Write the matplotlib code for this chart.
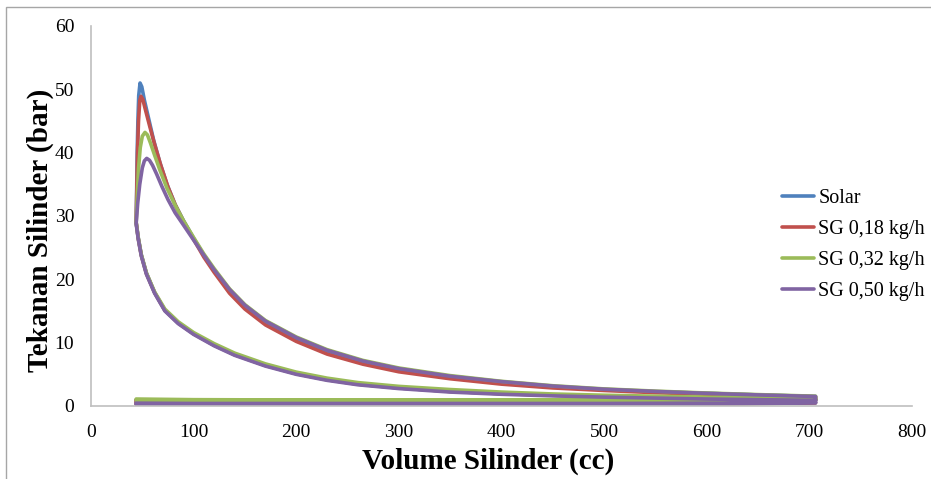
import matplotlib
matplotlib.use('Agg')
import matplotlib.pyplot as plt
from matplotlib.patches import Rectangle

# compression stroke, volume (cc) going down
comp_v = [706, 650, 600, 550, 500, 450, 400, 350, 300, 260, 230, 200, 170, 140, 120, 100, 85, 72, 62, 54, 49, 46, 44]
comp_solar = [1.0, 1.1, 1.2, 1.35, 1.5, 1.7, 1.95, 2.3, 2.85, 3.45, 4.15, 5.1, 6.4, 8.1, 9.6, 11.4, 13.1, 15.1, 17.9, 21.0, 23.9, 26.6, 29.0]
comp_sg18 = [1.0, 1.1, 1.2, 1.35, 1.5, 1.7, 1.95, 2.3, 2.85, 3.45, 4.15, 5.1, 6.4, 8.1, 9.6, 11.4, 13.1, 15.1, 17.9, 20.9, 23.8, 26.5, 29.0]
comp_sg32 = [1.2, 1.3, 1.4, 1.55, 1.7, 1.9, 2.2, 2.6, 3.1, 3.7, 4.4, 5.35, 6.65, 8.35, 9.85, 11.6, 13.3, 15.3, 18.0, 21.0, 23.9, 26.6, 29.0]
comp_sg50 = [0.9, 1.0, 1.1, 1.25, 1.4, 1.6, 1.85, 2.2, 2.75, 3.35, 4.05, 5.0, 6.3, 8.0, 9.5, 11.3, 13.0, 15.0, 17.8, 20.8, 23.7, 26.4, 28.8]

# combustion + expansion stroke, volume going up
exp_v_solar = [44, 44.5, 45, 45.7, 46.5, 47.8, 49.5, 52, 56, 61, 67, 74, 82, 90, 100, 110, 120, 135, 150, 170, 200, 230, 265, 300, 350, 400, 450, 500, 550, 600, 650, 706]
exp_solar = [29.0, 34.0, 40.0, 45.0, 49.0, 51.0, 50.4, 48.3, 45.5, 42.0, 38.5, 35.0, 31.8, 29.3, 26.5, 23.8, 21.4, 18.2, 15.8, 13.3, 10.7, 8.7, 7.0, 5.8, 4.6, 3.7, 3.05, 2.6, 2.25, 2.0, 1.75, 1.5]
exp_v_sg18 = [44, 44.6, 45.3, 46.3, 47.5, 48.7, 50.5, 53, 57, 62, 68, 75, 82, 90, 100, 110, 120, 135, 150, 170, 200, 230, 265, 300, 350, 400, 450, 500, 550, 600, 650, 706]
exp_sg18 = [29.0, 34.0, 40.0, 45.0, 48.2, 48.9, 48.4, 46.8, 44.3, 41.3, 38.0, 34.6, 31.8, 29.2, 26.3, 23.5, 21.1, 17.8, 15.3, 12.8, 10.2, 8.2, 6.6, 5.4, 4.3, 3.45, 2.85, 2.45, 2.1, 1.85, 1.65, 1.45]
exp_v_sg32 = [44, 45, 46.3, 48, 50, 52.6, 55, 58, 62, 67, 74, 82, 90, 100, 110, 120, 135, 150, 170, 200, 230, 265, 300, 350, 400, 450, 500, 550, 600, 650, 706]
exp_sg32 = [29.0, 33.0, 37.5, 40.8, 42.6, 43.2, 42.8, 41.5, 39.6, 37.3, 34.4, 31.7, 29.3, 26.6, 24.0, 21.7, 18.5, 16.0, 13.5, 10.9, 8.9, 7.2, 6.0, 4.8, 3.9, 3.2, 2.7, 2.35, 2.05, 1.8, 1.55]
exp_v_sg50 = [44, 45.5, 47.5, 50, 52, 54.3, 57, 60, 64, 69, 75, 82, 90, 100, 110, 120, 135, 150, 170, 200, 230, 265, 300, 350, 400, 450, 500, 550, 600, 650, 706]
exp_sg50 = [28.8, 32.0, 35.0, 37.6, 38.7, 39.1, 38.8, 38.0, 36.6, 34.7, 32.6, 30.5, 28.6, 26.2, 23.8, 21.5, 18.4, 15.9, 13.4, 10.8, 8.8, 7.1, 5.9, 4.7, 3.85, 3.15, 2.65, 2.3, 2.0, 1.75, 1.5]

# exhaust (706 -> 44) and intake (44 -> 706) strokes
exh_v = [706, 600, 500, 400, 300, 200, 100, 44]
exh_solar = [0.9, 0.85, 0.85, 0.85, 0.85, 0.85, 0.9, 0.95]
exh_sg18 = [0.9, 0.85, 0.85, 0.85, 0.85, 0.85, 0.9, 0.95]
exh_sg32 = [1.0, 0.95, 0.95, 0.95, 0.95, 0.95, 1.0, 1.1]
exh_sg50 = [0.5, 0.45, 0.4, 0.4, 0.4, 0.4, 0.4, 0.45]
int_v = [44, 100, 200, 300, 400, 500, 600, 706]
int_solar = [0.3, 0.25, 0.25, 0.25, 0.25, 0.25, 0.3, 0.5]
int_sg18 = [0.3, 0.25, 0.25, 0.25, 0.25, 0.25, 0.3, 0.5]
int_sg32 = [0.9, 0.85, 0.85, 0.85, 0.85, 0.85, 0.9, 1.0]
int_sg50 = [0.3, 0.2, 0.2, 0.2, 0.2, 0.2, 0.3, 0.6]

labels = ['Solar', 'SG 0,18 kg/h', 'SG 0,32 kg/h', 'SG 0,50 kg/h']
colors = ['#4F81BD', '#C0504D', '#9BBB59', '#8064A2']

series = [
    (comp_solar, exp_v_solar, exp_solar, exh_solar, int_solar),
    (comp_sg18, exp_v_sg18, exp_sg18, exh_sg18, int_sg18),
    (comp_sg32, exp_v_sg32, exp_sg32, exh_sg32, int_sg32),
    (comp_sg50, exp_v_sg50, exp_sg50, exh_sg50, int_sg50),
]

plt.rcParams['font.family'] = ['Liberation Serif', 'DejaVu Serif']

fig = plt.figure(figsize=(9.31, 4.79), dpi=100)
ax = fig.add_axes([91 / 931, 1 - 406 / 479, 821 / 931, 380 / 479])

for (cp, ev, ep, xp, ip), lab, col in zip(series, labels, colors):
    vv = comp_v + ev + exh_v + int_v
    pp = cp + ep + xp + ip
    ax.plot(vv, pp, color=col, lw=2.6, label=lab, solid_joinstyle='round', solid_capstyle='round')

ax.set_xlim(0, 800)
ax.set_ylim(0, 60)
ax.set_xticks(range(0, 801, 100))
ax.set_yticks(range(0, 61, 10))
for s in ['top', 'right']:
    ax.spines[s].set_visible(False)
for s in ['left', 'bottom']:
    ax.spines[s].set_color('#BFBFBF')
    ax.spines[s].set_linewidth(1.2)
ax.tick_params(length=0, labelsize=14)
ax.tick_params(axis='x', pad=13)
ax.tick_params(axis='y', pad=12)

ax.set_xlabel('Volume Silinder (cc)', fontsize=21, fontweight='bold')
ax.set_ylabel('Tekanan Silinder (bar)', fontsize=21, fontweight='bold')
ax.xaxis.set_label_coords((488 - 91) / 821, (406 - 448) / 380)
ax.yaxis.set_label_coords((54 - 91) / 821, (406 - 230) / 380)

ax.legend(loc='center left', bbox_to_anchor=(782 / 931, 1 - 245 / 479), bbox_transform=fig.transFigure,
          frameon=False, fontsize=14.5, handlelength=1.6, handletextpad=0.2, labelspacing=0.6,
          borderpad=0, borderaxespad=0)

fig.patches.append(Rectangle((6 / 931, -0.1), 1.2, 1 - 7 / 479 + 0.1, transform=fig.transFigure,
                             fill=False, edgecolor='#A6A6A6', lw=1.0))

fig.savefig('out.png', dpi=100)
